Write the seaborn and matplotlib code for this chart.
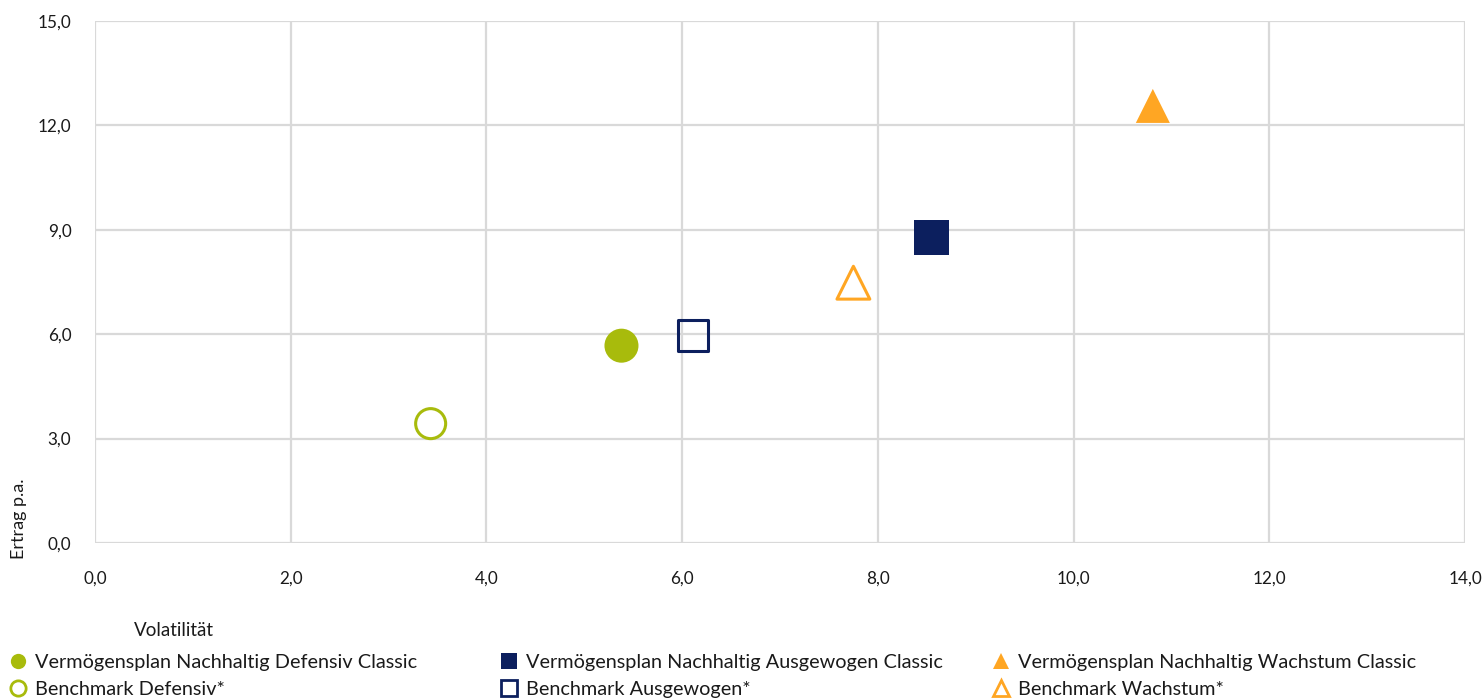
"""
Risk/return scatter: Vermögensplan Nachhaltig vs. benchmarks
"""
import numpy as np
import pandas as pd
import matplotlib.pyplot as plt
import seaborn as sns
from matplotlib.lines import Line2D
from matplotlib.ticker import FuncFormatter, MultipleLocator

# data
names = [
    'Vermögensplan Nachhaltig Defensiv Classic',
    'Benchmark Defensiv*',
    'Vermögensplan Nachhaltig Ausgewogen Classic',
    'Benchmark Ausgewogen*',
    'Vermögensplan Nachhaltig Wachstum Classic',
    'Benchmark Wachstum*',
]
volatility = [5.38, 3.43, 8.55, 6.11, 10.81, 7.75]
returns = [5.67, 3.43, 8.78, 5.97, 12.56, 7.48]

# styling per series
colors = ['#A8BB0C', '#A8BB0C', '#0C1F5E', '#0C1F5E', '#FFA623', '#FFA623']
markers = ['o', 'o', 's', 's', '^', '^']
filled = [True, False, True, False, True, False]
sizes = [600, 467, 635, 484, 600, 560]

grid_col = '#D9D9D9'
text_col = '#1A1A1A'

sns.set_theme(style='white')
plt.rcParams['font.family'] = ['Lato', 'DejaVu Sans']

df = pd.DataFrame({'name': names, 'vol': volatility, 'ertrag': returns})

fig = plt.figure(figsize=(14.83, 6.99), dpi=100)
ax = fig.add_axes([95 / 1483, 1 - 543 / 699, 1370 / 1483, 522 / 699])

sns.scatterplot(data=df, x='vol', y='ertrag', hue='name', style='name',
                palette=dict(zip(names, colors)),
                markers=dict(zip(names, markers)),
                s=600, legend=False, ax=ax, zorder=3, clip_on=False)

# open markers for the benchmarks
pts = ax.collections[0]
pts.set_facecolors([c if f else 'none' for c, f in zip(colors, filled)])
pts.set_edgecolors(colors)
pts.set_linewidths([0 if f else 2.2 for f in filled])
pts.set_sizes(sizes)

ax.set_xlim(0, 14)
ax.set_ylim(0, 15)
ax.xaxis.set_major_locator(MultipleLocator(2))
ax.yaxis.set_major_locator(MultipleLocator(3))
fmt = FuncFormatter(lambda v, p: f'{v:.1f}'.replace('.', ','))
ax.xaxis.set_major_formatter(fmt)
ax.yaxis.set_major_formatter(fmt)

ax.grid(True, color=grid_col, linewidth=1.6)
ax.set_axisbelow(True)
for sp in ax.spines.values():
    sp.set_visible(False)
ax.tick_params(axis='both', length=11, width=1.6, color=grid_col,
               labelsize=12.3, labelcolor=text_col)
ax.tick_params(axis='x', pad=9)
ax.tick_params(axis='y', pad=6)
ax.set_xlabel('')
ax.set_ylabel('')

fig.text(174 / 1483, 1 - 630 / 699, 'Volatilität', fontsize=13.5,
         color=text_col, ha='center', va='center')
fig.text(19 / 1483, 1 - 519 / 699, 'Ertrag p.a.', fontsize=13,
         color=text_col, ha='center', va='center', rotation=90)

# legend: three columns, two rows each
handles = []
for c, m, f in zip(colors, markers, filled):
    handles.append(Line2D([], [], linestyle='none', marker=m, markersize=11,
                          markerfacecolor=c if f else 'none',
                          markeredgecolor=c, markeredgewidth=0 if f else 2))

col_x = [7.6, 499, 991]
for i, x0 in enumerate(col_x):
    fig.legend(handles[2 * i:2 * i + 2], names[2 * i:2 * i + 2],
               loc='upper left', bbox_to_anchor=(x0 / 1483, 1 - 654 / 699),
               frameon=False, fontsize=14.3, borderpad=0, borderaxespad=0,
               handlelength=1.0, handletextpad=0.38, labelspacing=0.48,
               labelcolor=text_col)

fig.savefig('out.png', dpi=100, facecolor='white')
